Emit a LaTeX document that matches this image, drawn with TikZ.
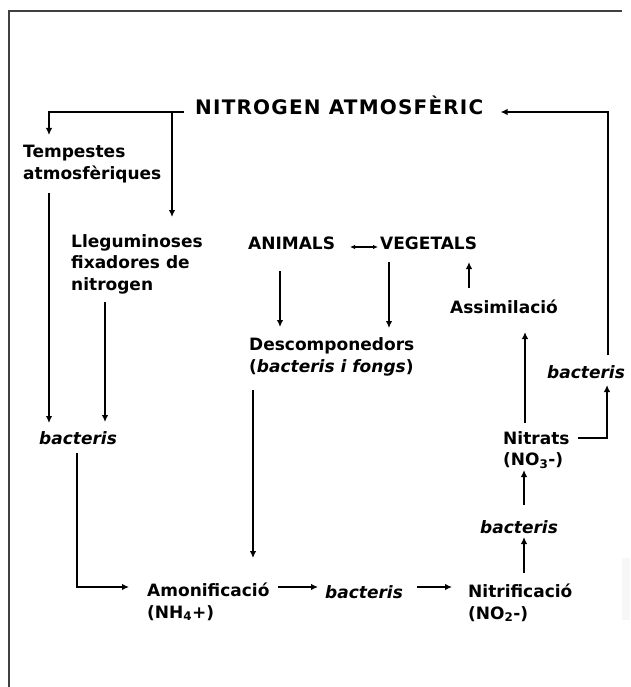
\documentclass[tikz,border=0pt]{standalone}
\usepackage{fontspec}
\setmainfont{DejaVu Sans}
\newfontfamily\titlefont[LetterSpace=6]{DejaVu Sans}
\usetikzlibrary{arrows.meta}
\begin{document}
\begin{tikzpicture}[x=1pt,y=-1pt,
  lbl/.style={inner sep=0pt, anchor=west, align=left,
    font=\fontsize{17}{21.5}\selectfont\bfseries},
  ital/.style={lbl, font=\fontsize{17}{21.5}\selectfont\bfseries\itshape},
  ttl/.style={inner sep=0pt, anchor=west,
    font=\titlefont\fontsize{20}{24}\selectfont\bfseries},
  arr/.style={line width=2.6pt, -{Latex[length=7pt,width=6.5pt]}},
  dbl/.style={line width=1.8pt, {Latex[length=5pt,width=4.5pt]}-{Latex[length=5pt,width=4.5pt]}},
  frame/.style={line width=2pt, black!75}]
\useasboundingbox (0,0) rectangle (630,687);
\fill[black!3] (622,558) rectangle (630,620);
\draw[frame] (9,687) -- (9,11) -- (622,11);

% nodes
\node[ttl] (nit) at (195,105) {NITROGEN ATMOSFÈRIC};
\node[lbl] (tem) at (23,164) {Tempestes\\atmosfèriques};
\node[lbl] (lle) at (71,264) {Lleguminoses\\fixadores de\\nitrogen};
\node[lbl] (ani) at (248,243) {ANIMALS};
\node[lbl] (veg) at (380,243) {VEGETALS};
\node[lbl] (ass) at (450,307) {Assimilació};
\node[lbl] (des) at (249,357) {Descomponedors\\(\textit{bacteris i fongs})};
\node[ital] (bL) at (39,438) {bacteris};
\node[ital] (bR) at (547,372) {bacteris};
\node[lbl] (nitr) at (503,450) {Nitrats\\(NO\textsubscript{3}-)};
\node[ital] (bN) at (480,527) {bacteris};
\node[lbl] (amo) at (147,602) {Amonificació\\(NH\textsubscript{4}+)};
\node[ital] (bM) at (325,592) {bacteris};
\node[lbl] (nif) at (468,603) {Nitrificació\\(NO\textsubscript{2}-)};

% connectors
\draw[arr] ([shift={(-11,7)}]nit.west) -| ([shift={(26,-29)}]tem.west);
\draw[arr] ([shift={(-23,7)}]nit.west) -- ([shift={(101,-47)}]lle.west);
\draw[arr] ([shift={(26,29)}]tem.west) -- ([shift={(10,-15)}]bL.west);
\draw[arr] ([shift={(34,38)}]lle.west) -- ([shift={(66,-16)}]bL.west);
\draw[arr] ([shift={(38,15)}]bL.west) |- ([shift={(-18,-15)}]amo.west);
\draw[arr] ([shift={(32,28)}]ani.west) -- ([shift={(31,-30)}]des.west);
\draw[arr] ([shift={(9,19)}]veg.west) -- ([shift={(140,-29)}]des.west);
\draw[dbl] ([shift={(102,4)}]ani.west) -- ([shift={(-2,4)}]veg.west);
\draw[arr] ([shift={(19,-19)}]ass.west) -- ([shift={(89,19)}]veg.west);
\draw[arr] ([shift={(4,33)}]des.west) -- ([shift={(106,-44)}]amo.west);
\draw[arr] ([shift={(131,-15)}]amo.west) -- ([shift={(-7,-5)}]bM.west);
\draw[arr] ([shift={(92,-5)}]bM.west) -- ([shift={(-16,-16)}]nif.west);
\draw[arr] ([shift={(56,-30)}]nif.west) -- ([shift={(44,10)}]bN.west);
\draw[arr] ([shift={(44,-22)}]bN.west) -- ([shift={(21,20)}]nitr.west);
\draw[arr] ([shift={(22,-27)}]nitr.west) -- ([shift={(75,25)}]ass.west);
\draw[line width=1.8pt, -{Latex[length=7pt,width=6.5pt]}] ([shift={(75,-12)}]nitr.west) -| ([shift={(60,13)}]bR.west);
\draw[arr] ([shift={(61,-17)}]bR.west) |- ([shift={(17,7)}]nit.east);
\end{tikzpicture}
\end{document}
